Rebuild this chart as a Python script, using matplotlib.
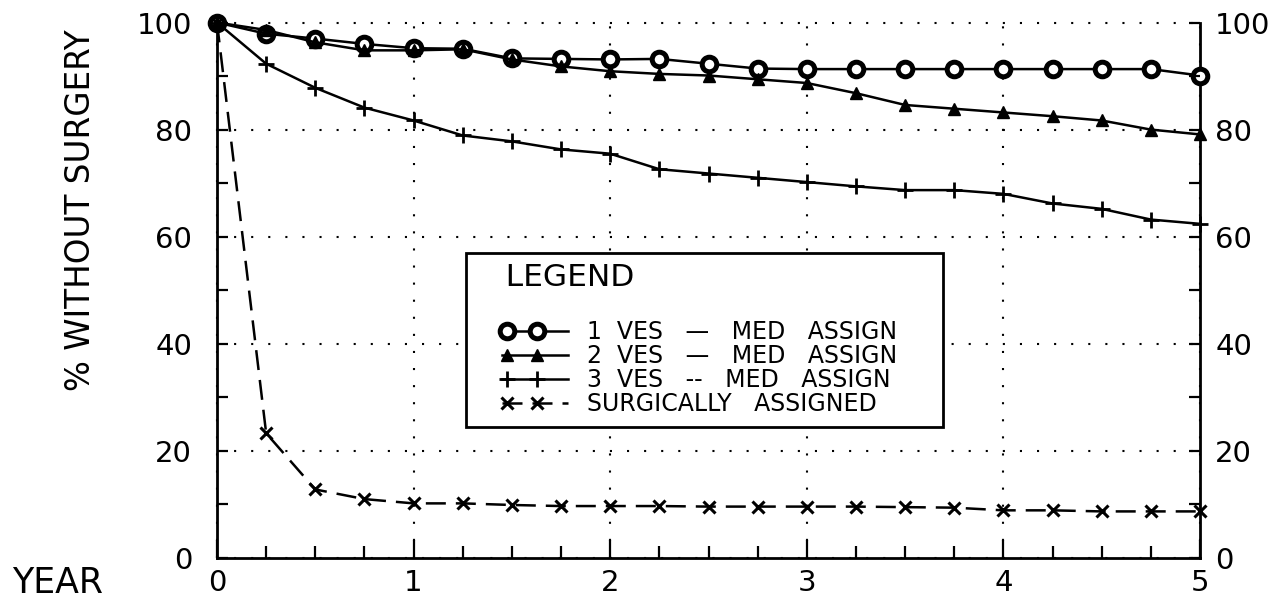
import matplotlib
matplotlib.use("Agg")
import numpy as np
import matplotlib.pyplot as plt
from matplotlib.ticker import MultipleLocator, FixedLocator
from matplotlib.legend_handler import HandlerLine2DCompound

plt.rcParams['font.family'] = ['DejaVu Sans']

years = [0, 0.25, 0.5, 0.75, 1.0, 1.25, 1.5, 1.75, 2.0, 2.25, 2.5,
         2.75, 3.0, 3.25, 3.5, 3.75, 4.0, 4.25, 4.5, 4.75, 5.0]
ves1 = [100, 97.9, 97.0, 96.0, 95.2, 95.1, 93.3, 93.2, 93.1, 93.2, 92.3,
        91.4, 91.3, 91.3, 91.3, 91.3, 91.3, 91.3, 91.3, 91.3, 90.1]
ves2 = [100, 98.6, 96.3, 94.8, 94.8, 95.0, 93.1, 91.8, 90.9, 90.4, 90.1,
        89.4, 88.7, 86.8, 84.6, 83.9, 83.2, 82.5, 81.7, 80.0, 79.1]
ves3 = [100, 92.3, 87.8, 84.1, 81.7, 78.9, 77.8, 76.3, 75.5, 72.6, 71.8,
        71.0, 70.2, 69.4, 68.7, 68.7, 68.0, 66.2, 65.2, 63.2, 62.4]
surg = [100, 23.3, 12.8, 11.0, 10.2, 10.2, 9.9, 9.7, 9.7, 9.7, 9.6,
        9.6, 9.6, 9.6, 9.5, 9.4, 8.9, 8.9, 8.7, 8.7, 8.7]

labels = ["1  VES   —   MED   ASSIGN", "2  VES   —   MED   ASSIGN",
          "3  VES   --   MED   ASSIGN", "SURGICALLY   ASSIGNED"]
yticks = [0, 20, 40, 60, 80, 100]
xticks = [0, 1, 2, 3, 4, 5]


class SampleHandler(HandlerLine2DCompound):
    """Line from a left offset to the right end, markers at left and middle."""
    def get_xdata(self, legend, xdescent, ydescent, width, height, fontsize):
        x0 = -xdescent
        xdata = np.array([x0 + 0.28 * width, x0 + width])
        xm = np.array([x0 + 0.33 * width, x0 + 0.66 * width])
        return xdata, xm


fig = plt.figure(figsize=(12.86, 6.05), dpi=100)
ax = fig.add_axes([217/1286, 1-558/605, (1200-217)/1286, (558-22.5)/605])

lw = 1.8
h1, = ax.plot(years, ves1, color='black', lw=lw, marker='o', ms=10.5,
              mfc='white', mec='black', mew=3.6, label=labels[0], clip_on=False, zorder=5)
h2, = ax.plot(years, ves2, color='black', lw=lw, marker='^', ms=8.5,
              mfc='black', mec='black', label=labels[1], clip_on=False, zorder=5)
h3, = ax.plot(years, ves3, color='black', lw=lw, marker='+', ms=11,
              mew=2, label=labels[2], clip_on=False, zorder=5)
h4, = ax.plot(years, surg, color='black', lw=lw, marker='x', ms=9,
              mew=2.2, ls=(0, (8, 4)), label=labels[3], clip_on=False, zorder=5)

ax.set_xlim(0, 5)
ax.set_ylim(0, 100)
ax.spines['top'].set_visible(False)
for s in ['left', 'right', 'bottom']:
    ax.spines[s].set_linewidth(2)

ax.xaxis.set_major_locator(FixedLocator(xticks))
ax.xaxis.set_minor_locator(MultipleLocator(0.25))
ax.yaxis.set_major_locator(FixedLocator(yticks))
ax.yaxis.set_minor_locator(MultipleLocator(10))
ax.tick_params(axis='x', which='major', direction='in', length=13, width=1.6,
               labelsize=21, pad=8)
ax.tick_params(axis='x', which='minor', direction='in', length=8.5, width=1.6)
ax.tick_params(axis='y', which='both', direction='in', length=8, width=1.6,
               labelsize=21, pad=18)

ax.grid(True, which='major', color='black', lw=1.5, ls=(0, (1, 7.2)))
for gl in ax.get_ygridlines() + ax.get_xgridlines():
    gl.set_clip_on(False)

ax2 = ax.twinx()
ax2.set_ylim(0, 100)
ax2.yaxis.set_major_locator(FixedLocator(yticks))
ax2.yaxis.set_minor_locator(MultipleLocator(10))
ax2.tick_params(axis='y', which='both', direction='in', length=8, width=1.6,
                labelsize=21, pad=11)
for s in ax2.spines.values():
    s.set_visible(False)

ax.set_ylabel("% WITHOUT SURGERY", fontsize=23.5)
ax.yaxis.set_label_coords(-0.122, 0.65)
fig.text(12/1286, 1-583/605, "YEAR", fontsize=25, va='center', ha='left')

leg = ax.legend(handles=[h1, h2, h3, h4], loc='upper left',
                bbox_to_anchor=(0.253, 0.243, 0.486, 0.327), mode='expand',
                borderaxespad=0,
                title="   LEGEND\n", title_fontsize=22.5, fontsize=17,
                alignment='left', handlelength=3.9,
                handler_map={h: SampleHandler() for h in [h1, h2, h3, h4]},
                handletextpad=0.8, labelspacing=0.0, borderpad=0.45,
                fancybox=False, framealpha=1, edgecolor='black')
leg.get_frame().set_linewidth(2)
leg.get_title().set_linespacing(0.95)
leg.set_zorder(10)

fig.savefig("out.png", dpi=100)
